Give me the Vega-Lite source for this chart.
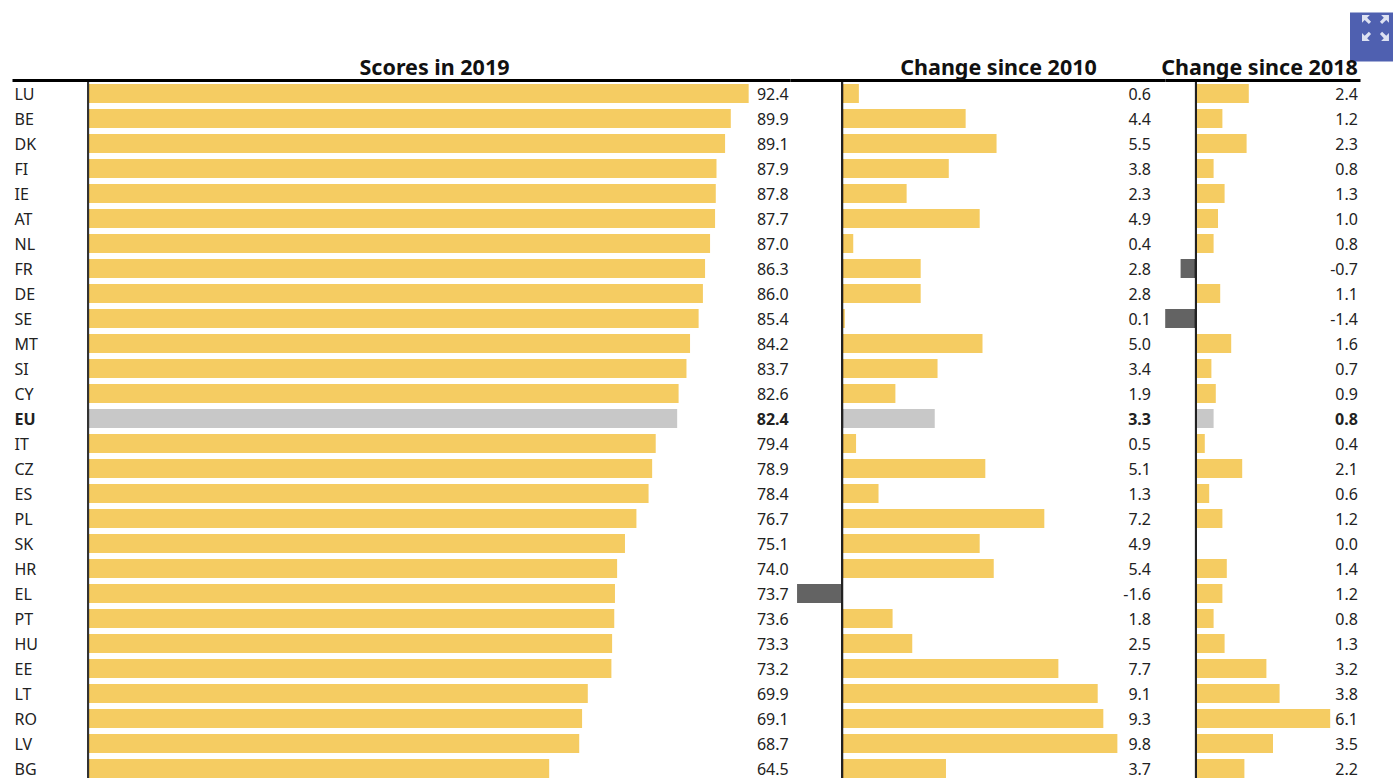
{
"$schema":"https://vega.github.io/schema/vega-lite/v6.json",
"padding":{"left":12,"top":12,"right":33,"bottom":0},
"background":"white",
"datasets":{"rows":[
{"country":"LU","score":92.4,"d2010":0.6,"d2018":2.4},
{"country":"BE","score":89.9,"d2010":4.4,"d2018":1.2},
{"country":"DK","score":89.1,"d2010":5.5,"d2018":2.3},
{"country":"FI","score":87.9,"d2010":3.8,"d2018":0.8},
{"country":"IE","score":87.8,"d2010":2.3,"d2018":1.3},
{"country":"AT","score":87.7,"d2010":4.9,"d2018":1.0},
{"country":"NL","score":87.0,"d2010":0.4,"d2018":0.8},
{"country":"FR","score":86.3,"d2010":2.8,"d2018":-0.7},
{"country":"DE","score":86.0,"d2010":2.8,"d2018":1.1},
{"country":"SE","score":85.4,"d2010":0.1,"d2018":-1.4},
{"country":"MT","score":84.2,"d2010":5.0,"d2018":1.6},
{"country":"SI","score":83.7,"d2010":3.4,"d2018":0.7},
{"country":"CY","score":82.6,"d2010":1.9,"d2018":0.9},
{"country":"EU","score":82.4,"d2010":3.3,"d2018":0.8},
{"country":"IT","score":79.4,"d2010":0.5,"d2018":0.4},
{"country":"CZ","score":78.9,"d2010":5.1,"d2018":2.1},
{"country":"ES","score":78.4,"d2010":1.3,"d2018":0.6},
{"country":"PL","score":76.7,"d2010":7.2,"d2018":1.2},
{"country":"SK","score":75.1,"d2010":4.9,"d2018":0.0},
{"country":"HR","score":74.0,"d2010":5.4,"d2018":1.4},
{"country":"EL","score":73.7,"d2010":-1.6,"d2018":1.2},
{"country":"PT","score":73.6,"d2010":1.8,"d2018":0.8},
{"country":"HU","score":73.3,"d2010":2.5,"d2018":1.3},
{"country":"EE","score":73.2,"d2010":7.7,"d2018":3.2},
{"country":"LT","score":69.9,"d2010":9.1,"d2018":3.8},
{"country":"RO","score":69.1,"d2010":9.3,"d2018":6.1},
{"country":"LV","score":68.7,"d2010":9.8,"d2018":3.5},
{"country":"BG","score":64.5,"d2010":3.7,"d2018":2.2}
]},
"config":{"view":{"stroke":null},"font":"Noto Sans","text":{"font":"Noto Sans","fontSize":16,"color":"#222222"}},
"bounds":"flush",
"spacing":0,
"hconcat":[
{"width":778,"height":702,"data":{"name":"rows"},
"encoding":{"y":{"field":"country","type":"nominal","sort":null,"scale":{"type":"band","paddingInner":0.24,"paddingOuter":0.16},
"axis":{"title":null,"orient":"left","ticks":false,"domain":false,"labelAlign":"left","labelPadding":-2,"labelOffset":1,"labelFont":"Noto Sans","labelFontSize":16,"labelColor":"#222222","labelFontWeight":{"expr":"datum.value=='EU'?'bold':'normal'"}}}},
"layer":[
{"mark":{"type":"bar","cornerRadius":0},
"encoding":{"x":{"field":"score","type":"quantitative","scale":{"domain":[-10.63,98.18],"nice":false,"zero":false},
"axis":{"orient":"top","title":"Scores in 2019","titleFont":"Noto Sans","titleFontSize":21.5,"titleFontWeight":"bold","titleColor":"#111111","titleX":422,"titleY":-6,"titleAlign":"center","titleBaseline":"alphabetic","labels":false,"ticks":false,"grid":false,"domain":true,"domainColor":"#000000","domainWidth":3,"zindex":1}},
"color":{"condition":[{"test":"datum.country=='EU'","value":"#C8C8C8"},{"test":"datum.score<0","value":"#636363"}],"value":"#F5CC62"}}},
{"mark":{"type":"rule","color":"#333333","strokeWidth":2},"encoding":{"x":{"datum":0},"y":null}},
{"mark":{"type":"text","align":"right","baseline":"middle","dy":1,"fontWeight":{"expr":"datum.country=='EU'?'bold':'normal'"},"text":{"expr":"format(datum.score,'.1f')"}},
"encoding":{"x":{"datum":98.0}}}
]},
{"width":375,"height":702,"data":{"name":"rows"},
"encoding":{"y":{"field":"country","type":"nominal","sort":null,"scale":{"type":"band","paddingInner":0.24,"paddingOuter":0.16},"axis":null}},
"layer":[
{"mark":{"type":"bar","cornerRadius":0},
"encoding":{"x":{"field":"d2010","type":"quantitative","scale":{"domain":[-1.851,11.495],"nice":false,"zero":false},
"axis":{"orient":"top","title":"Change since 2010","titleFont":"Noto Sans","titleFontSize":21.5,"titleFontWeight":"bold","titleColor":"#111111","titleX":208,"titleY":-6,"titleAlign":"center","titleBaseline":"alphabetic","labels":false,"ticks":false,"grid":false,"domain":true,"domainColor":"#000000","domainWidth":3,"zindex":1}},
"color":{"condition":[{"test":"datum.country=='EU'","value":"#C8C8C8"},{"test":"datum.d2010<0","value":"#636363"}],"value":"#F5CC62"}}},
{"mark":{"type":"rule","color":"#222222","strokeWidth":2},"encoding":{"x":{"datum":0},"y":null}},
{"mark":{"type":"text","align":"right","baseline":"middle","dy":1,"fontWeight":{"expr":"datum.country=='EU'?'bold':'normal'"},"text":{"expr":"replace(format(datum.d2010,'.1f'),'\u2212','-')"}},
"encoding":{"x":{"datum":10.996}}}
]},
{"width":195,"height":702,"data":{"name":"rows"},
"encoding":{"y":{"field":"country","type":"nominal","sort":null,"scale":{"type":"band","paddingInner":0.24,"paddingOuter":0.16},"axis":null}},
"layer":[
{"mark":{"type":"bar","cornerRadius":0},
"encoding":{"x":{"field":"d2018","type":"quantitative","scale":{"domain":[-1.409,7.4545],"nice":false,"zero":false},
"axis":{"orient":"top","title":"Change since 2018","titleFont":"Noto Sans","titleFontSize":21.5,"titleFontWeight":"bold","titleColor":"#111111","titleX":94,"titleY":-6,"titleAlign":"center","titleBaseline":"alphabetic","labels":false,"ticks":false,"grid":false,"domain":true,"domainColor":"#000000","domainWidth":3,"zindex":1}},
"color":{"condition":[{"test":"datum.country=='EU'","value":"#C8C8C8"},{"test":"datum.d2018<0","value":"#636363"}],"value":"#F5CC62"}}},
{"mark":{"type":"rule","color":"#222222","strokeWidth":2},"encoding":{"x":{"datum":0},"y":null}},
{"mark":{"type":"text","align":"right","baseline":"middle","dy":1,"fontWeight":{"expr":"datum.country=='EU'?'bold':'normal'"},"text":{"expr":"replace(format(datum.d2018,'.1f'),'\u2212','-')"}},
"encoding":{"x":{"datum":7.36}}},
{"data":{"values":[{"button":"expand"}]},
"mark":{"type":"point","filled":true,"opacity":1,"color":"#4F60B0","shape":"M-0.88 -1H0.88V1H-0.88Z","size":2401},
"encoding":{"x":{"datum":7.98},"y":{"datum":"LU"},"yOffset":{"value":-47}}},
{"data":{"values":[{"button":"expand"}]},
"mark":{"type":"point","filled":true,"opacity":1,"color":"#DDE1F2","size":2401,"shape":"M-0.39 -0.9H-0.07L-0.18 -0.79L-0.02 -0.62L-0.11 -0.53L-0.28 -0.69L-0.39 -0.58ZM0.71 -0.9H0.39L0.5 -0.79L0.34 -0.62L0.43 -0.53L0.6 -0.69L0.71 -0.58ZM-0.39 0.16H-0.07L-0.18 0.05L-0.02 -0.12L-0.11 -0.21L-0.28 -0.05L-0.39 -0.16ZM0.71 0.16H0.39L0.5 0.05L0.34 -0.12L0.43 -0.21L0.6 -0.05L0.71 -0.16Z"},
"encoding":{"x":{"datum":7.98},"y":{"datum":"LU"},"yOffset":{"value":-47}}}
]}
]}
